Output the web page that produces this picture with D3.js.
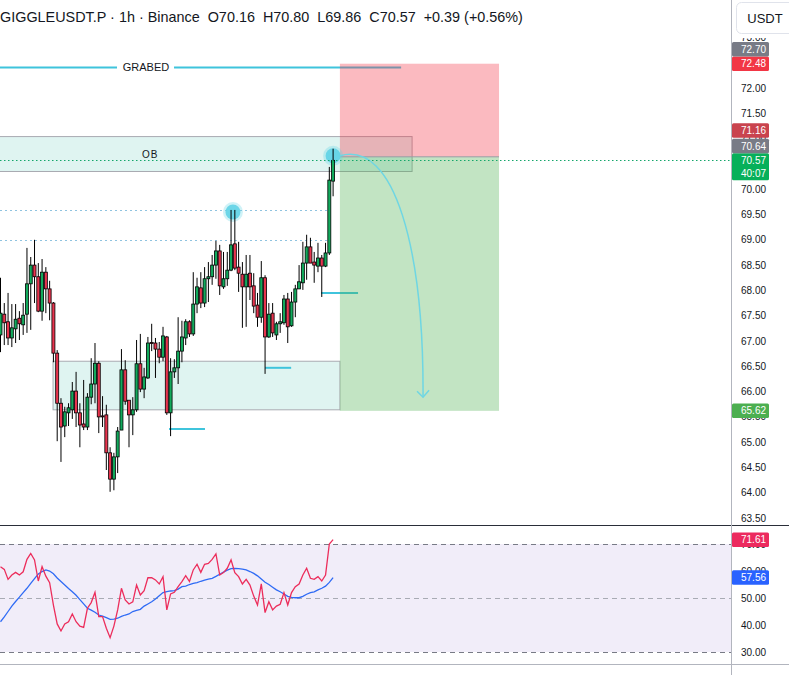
<!DOCTYPE html>
<html>
<head>
<meta charset="utf-8">
<script src="https://cdn.jsdelivr.net/npm/d3@7"></script>
<style>
    body { margin: 0; background: #fff; }
    svg { display: block; font-family: "Liberation Sans", Arial, sans-serif; }
</style>
</head>
<body>
<div id="chart"></div>
<script>
// candles, 1h
const open = [67.12, 67.53, 67.38, 67.06, 67.24, 67.45, 67.32, 67.53, 68.13, 68.50,
    68.27, 67.59, 68.36, 68.03, 67.75, 66.76, 65.77, 65.32, 65.58, 65.64,
    66.01, 65.58, 65.36, 65.30, 65.89, 66.15, 66.56, 65.52, 65.54, 64.79,
    64.27, 64.71, 65.24, 66.43, 65.83, 65.54, 65.64, 66.55, 66.05, 66.27,
    66.97, 66.96, 66.84, 66.68, 67.08, 65.58, 66.39, 66.47, 66.80, 67.06,
    67.38, 67.14, 67.73, 68.05, 67.75, 68.23, 68.27, 68.50, 68.78, 68.07,
    68.23, 68.40, 68.92, 68.46, 68.32, 68.07, 68.34, 68.09, 67.71, 67.47,
    68.25, 67.08, 67.55, 67.12, 67.34, 67.36, 67.83, 67.30, 67.77, 68.03,
    68.15, 68.54, 68.86, 68.56, 68.48, 68.64, 68.48, 68.74, 70.16]
const high = [68.25, 67.75, 67.95, 67.73, 67.73, 67.59, 67.75, 68.84, 68.66, 69.00,
    68.54, 68.62, 68.46, 68.19, 67.77, 66.82, 65.87, 65.70, 65.77, 66.19,
    66.39, 65.77, 66.23, 65.97, 66.66, 66.96, 66.60, 65.91, 65.74, 64.90,
    64.79, 65.30, 66.84, 66.62, 65.83, 65.89, 67.02, 67.14, 66.47, 67.08,
    67.34, 67.06, 66.98, 67.28, 67.10, 66.66, 66.64, 67.47, 67.40, 67.43,
    67.41, 68.36, 68.25, 68.36, 68.46, 68.56, 68.70, 68.98, 68.90, 68.76,
    68.76, 69.59, 69.59, 68.96, 68.56, 68.70, 68.70, 68.34, 67.95, 68.58,
    68.30, 67.75, 67.75, 67.38, 67.55, 67.91, 67.95, 67.97, 68.11, 68.50,
    68.96, 69.10, 69.04, 68.76, 68.94, 68.70, 68.94, 70.44, 70.80]
const low = [66.78, 66.92, 66.92, 66.88, 66.96, 67.02, 67.12, 67.16, 67.22, 67.75,
    67.57, 67.40, 67.55, 67.41, 66.58, 65.02, 64.61, 65.10, 65.32, 65.46,
    65.30, 64.90, 65.24, 65.24, 65.75, 65.77, 65.18, 65.30, 64.45, 64.02,
    64.05, 64.39, 65.24, 65.74, 64.90, 65.14, 65.60, 65.99, 65.87, 66.25,
    66.80, 66.27, 66.56, 66.60, 65.54, 65.12, 66.27, 66.15, 66.58, 66.92,
    67.08, 67.10, 67.55, 67.65, 67.67, 67.77, 68.11, 68.23, 67.91, 68.03,
    68.09, 68.38, 68.40, 67.97, 67.26, 67.28, 67.81, 67.55, 67.28, 67.36,
    66.35, 67.06, 67.08, 67.02, 67.16, 67.32, 66.96, 67.28, 67.47, 68.03,
    68.01, 68.21, 68.54, 68.15, 68.36, 67.87, 68.46, 68.70, 69.86]
const close = [67.55, 67.36, 67.06, 67.26, 67.43, 67.34, 67.51, 68.13, 68.50, 68.27,
    67.59, 68.36, 68.03, 67.75, 66.76, 65.77, 65.30, 65.60, 65.68, 66.01,
    65.58, 65.34, 65.30, 65.89, 66.15, 66.56, 65.50, 65.50, 64.79, 64.27,
    64.71, 65.22, 66.43, 65.81, 65.54, 65.64, 66.55, 66.05, 66.29, 66.96,
    66.95, 66.84, 66.68, 67.10, 65.58, 66.39, 66.47, 66.80, 67.08, 67.38,
    67.14, 67.73, 68.07, 67.75, 68.23, 68.27, 68.50, 68.78, 68.09, 68.23,
    68.40, 68.90, 68.44, 68.34, 68.07, 68.32, 68.07, 67.69, 67.47, 68.25,
    67.08, 67.53, 67.16, 67.34, 67.38, 67.83, 67.28, 67.77, 68.03, 68.17,
    68.54, 68.86, 68.54, 68.50, 68.64, 68.48, 68.74, 70.18, 70.57]

// RSI pane
const rsi = [61.6, 60.6, 56.9, 58.5, 59.5, 58.5, 59.7, 64.3, 66.5, 64.1,
    56.3, 61.6, 58.1, 55.7, 47.4, 40.4, 37.8, 40.4, 41.2, 44.1,
    41.2, 39.6, 39.1, 46.2, 48.3, 52.1, 43.1, 43.1, 38.8, 35.3,
    39.6, 45.6, 53.6, 49.3, 47.8, 48.6, 54.8, 51.1, 52.7, 57.5,
    57.5, 56.7, 55.2, 57.9, 45.6, 51.5, 52.1, 54.2, 56.1, 58.3,
    56.1, 60.4, 62.5, 59.5, 62.5, 62.8, 64.3, 66.3, 58.5, 59.4,
    61.0, 64.1, 59.4, 57.9, 55.2, 56.9, 54.8, 50.7, 47.4, 55.2,
    44.6, 48.6, 45.6, 47.0, 47.7, 52.0, 47.4, 52.0, 54.2, 55.2,
    58.5, 61.0, 57.3, 56.9, 57.9, 56.3, 58.5, 70.0, 71.61]
const rsiMa = [41.2, 43.0, 45.0, 47.0, 48.7, 50.3, 52.0, 53.6, 55.4, 57.2,
    58.9, 59.8, 60.4, 60.0, 59.0, 57.4, 56.1, 54.8, 53.5, 52.3,
    51.0, 49.4, 47.8, 46.2, 45.5, 44.7, 43.7, 43.3, 42.7, 42.1,
    42.2, 42.5, 43.2, 43.7, 44.1, 45.0, 45.4, 45.8, 47.0, 47.8,
    48.6, 49.6, 50.8, 52.0, 52.4, 52.6, 52.7, 53.3, 54.2, 54.4,
    55.0, 55.4, 55.7, 56.2, 56.6, 57.0, 57.3, 58.0, 58.8, 59.6,
    60.3, 60.9, 61.0, 60.9, 60.7, 60.4, 59.8, 59.1, 58.2, 57.0,
    55.8, 55.0, 54.0, 53.0, 52.3, 51.5, 50.6, 50.2, 50.1, 50.1,
    50.6, 51.4, 52.0, 52.3, 53.0, 53.6, 54.4, 55.8, 57.56]

const priceTicks = [63.5, 64, 64.5, 65, 65.5, 66, 66.5, 67, 67.5, 68, 68.5, 69, 69.5, 70, 70.5, 71, 71.5, 72, 72.5, 73]
const rsiTicks = [30, 40, 50, 60, 70]
const rsiLevels = [70, 50, 30]

// drawings (bar index / price)
const obZone = { from: -2, to: 108.9, top: 71.04, bottom: 70.35, label: "OB", labelAt: 39.6 }
const demandZone = { from: 13.9, to: 89.8, top: 66.60, bottom: 65.64 }
const position = { from: 89.8, to: 131.9, entry: 70.64, stop: 72.48, target: 65.62 }
const grabbed = { from: -2, to: 106, price: 72.42, label: "GRABED", labelAt: 38.5 }
const dottedLevels = [{ price: 69.59, to: 87.2 }, { price: 69.0, to: 87.2 }]
const lowMarks = [
    { price: 67.95, from: 84.8, to: 94.6 },
    { price: 66.47, from: 70, to: 76.9 },
    { price: 65.26, from: 44.6, to: 54.1 },
]
const highMarks = [{ i: 61.5, price: 69.55 }, { i: 88, price: 70.66 }]
const arrowPts = [[89.8, 70.66], [104.4, 70.97], [112, 68.8], [111.8, 65.89]]

// price scale tags
const tagValues = [72.70, 72.48, 71.16, 70.64, 70.57, 65.62]
const tagColors = ["#787b86", "#f23645", "#c9434e", "#787b86", "#07b05a", "#4caf50"]
const countdown = "40:07"
const rsiTagValues = [71.61, 57.56]
const rsiTagColors = ["#ec2a5e", "#2962ff"]

const header = "GIGGLEUSDT.P · 1h · Binance  O70.16  H70.80  L69.86  C70.57  +0.39 (+0.56%)"

const width = 789
const height = 675
const axisX = 731
const paneSplit = 525
const paneBottom = 664.5

const svg = d3.select("div#chart").append("svg").attr("width", width).attr("height", height)

const x = d3.scaleLinear().domain([0, 88]).range([0.5, 333.1])
const y = d3.scaleLinear().domain([64, 72]).range([492.8, 88])
const yRsi = d3.scaleLinear().domain([30, 70]).range([652, 544])

const defs = svg.append("defs")
defs.append("clipPath").attr("id", "mainClip").append("rect")
    .attr("x", 0).attr("y", 0).attr("width", axisX).attr("height", paneSplit)
defs.append("clipPath").attr("id", "rsiClip").append("rect")
    .attr("x", 0).attr("y", paneSplit).attr("width", axisX).attr("height", paneBottom - paneSplit)

const main = svg.append("g").attr("clip-path", "url(#mainClip)")

// zones
const zone = (g, z, fill) => g.append("rect")
    .attr("x", x(z.from)).attr("y", y(z.top))
    .attr("width", x(z.to) - x(z.from)).attr("height", y(z.bottom) - y(z.top))
    .attr("fill", fill).attr("stroke", "#a9abb2").attr("stroke-width", 1)

zone(main, obZone, "#dff4f1")
zone(main, demandZone, "#dff4f1")
main.append("text").attr("x", x(obZone.labelAt)).attr("y", (y(obZone.top) + y(obZone.bottom)) / 2)
    .attr("dy", "0.35em").attr("text-anchor", "middle").attr("font-size", 10)
    .attr("letter-spacing", 1).attr("fill", "#131722").text(obZone.label)

// dotted levels
main.selectAll(".lvl").data(dottedLevels).join("line")
    .attr("x1", 0).attr("x2", d => x(d.to))
    .attr("y1", d => Math.round(y(d.price)) + 0.5).attr("y2", d => Math.round(y(d.price)) + 0.5)
    .attr("stroke", "#8fc3e0").attr("stroke-width", 1).attr("stroke-dasharray", "2,3")

// grabbed liquidity line
const gy = Math.round(y(grabbed.price)) + 0.5
const gx = x(grabbed.labelAt)
main.append("line").attr("x1", x(grabbed.from)).attr("x2", gx - 29).attr("y1", gy).attr("y2", gy)
    .attr("stroke", "#3fc4dc").attr("stroke-width", 2)
main.append("line").attr("x1", gx + 28).attr("x2", x(grabbed.to)).attr("y1", gy).attr("y2", gy)
    .attr("stroke", "#3fc4dc").attr("stroke-width", 2)
main.append("text").attr("x", gx).attr("y", gy).attr("dy", "0.35em").attr("text-anchor", "middle")
    .attr("font-size", 11).attr("fill", "#131722").text(grabbed.label)

// swept lows
main.selectAll(".low").data(lowMarks).join("line")
    .attr("x1", d => x(d.from)).attr("x2", d => x(d.to))
    .attr("y1", d => y(d.price)).attr("y2", d => y(d.price))
    .attr("stroke", "#3fc4dc").attr("stroke-width", 2)

// short position box
main.append("rect").attr("x", x(position.from)).attr("y", y(position.stop))
    .attr("width", x(position.to) - x(position.from)).attr("height", y(position.entry) - y(position.stop))
    .attr("fill", "#f23645").attr("fill-opacity", 0.34)
main.append("rect").attr("x", x(position.from)).attr("y", y(position.entry))
    .attr("width", x(position.to) - x(position.from)).attr("height", y(position.target) - y(position.entry))
    .attr("fill", "#4caf50").attr("fill-opacity", 0.34)
main.append("line").attr("x1", x(position.from)).attr("x2", x(position.to))
    .attr("y1", y(position.entry)).attr("y2", y(position.entry))
    .attr("stroke", "#9a9ca3").attr("stroke-width", 1)

// swept highs
main.selectAll(".hi").data(highMarks).join("circle")
    .attr("cx", d => x(d.i)).attr("cy", d => y(d.price)).attr("r", 10)
    .attr("fill", "#5fd3e6").attr("fill-opacity", 0.3)
main.selectAll(".hi2").data(highMarks).join("circle")
    .attr("cx", d => x(d.i)).attr("cy", d => y(d.price)).attr("r", 7.5)
    .attr("fill", "#5fd3e6").attr("fill-opacity", 0.9)

// candles
const idx = d3.range(open.length)
const green = "#12aa5c"
const red = "#e8344e"
main.selectAll(".wick").data(idx).join("line")
    .attr("x1", i => x(i)).attr("x2", i => x(i))
    .attr("y1", i => y(high[i])).attr("y2", i => y(low[i]))
    .attr("stroke", "#000").attr("stroke-width", 1)
main.selectAll(".body").data(idx).join("rect")
    .attr("x", i => x(i) - 1.5).attr("width", 3)
    .attr("y", i => y(Math.max(open[i], close[i])))
    .attr("height", i => Math.max(1, Math.abs(y(open[i]) - y(close[i]))))
    .attr("fill", i => close[i] >= open[i] ? green : red)
    .attr("stroke", "#000").attr("stroke-width", 0.8)

// projected move arrow
const ap = arrowPts.map(p => [x(p[0]), y(p[1])])
main.append("path")
    .attr("d", `M${ap[0]}C${ap[1]} ${ap[2]} ${ap[3]}`)
    .attr("fill", "none").attr("stroke", "#6fd6e3").attr("stroke-width", 1.5)
const tip = ap[3]
main.append("path")
    .attr("d", `M${tip[0] - 6},${tip[1] - 6}L${tip[0]},${tip[1]}L${tip[0] + 6},${tip[1] - 7}`)
    .attr("fill", "none").attr("stroke", "#6fd6e3").attr("stroke-width", 1.5)

// last price line
const lastY = Math.round(y(close[close.length - 1])) + 0.5
svg.append("line").attr("x1", 0).attr("x2", axisX).attr("y1", lastY).attr("y2", lastY)
    .attr("stroke", "#13a66a").attr("stroke-width", 1).attr("stroke-dasharray", "1.5,2.5")

// RSI pane
const rsiG = svg.append("g").attr("clip-path", "url(#rsiClip)")
rsiG.append("rect").attr("x", 0).attr("width", axisX)
    .attr("y", yRsi(70)).attr("height", yRsi(30) - yRsi(70)).attr("fill", "#f1edf9")
rsiG.selectAll(".band").data(rsiLevels).join("line")
    .attr("x1", 0).attr("x2", axisX)
    .attr("y1", d => Math.round(yRsi(d)) + 0.5).attr("y2", d => Math.round(yRsi(d)) + 0.5)
    .attr("stroke", d => d === 50 ? "#a8abb4" : "#787b86").attr("stroke-width", 1)
    .attr("stroke-dasharray", "5,4")
rsiG.append("path").datum(rsiMa)
    .attr("d", d3.line().x((d, i) => x(i)).y(d => yRsi(d)))
    .attr("fill", "none").attr("stroke", "#2f6bf5").attr("stroke-width", 1.3)
rsiG.append("path").datum(rsi)
    .attr("d", d3.line().x((d, i) => x(i)).y(d => yRsi(d)))
    .attr("fill", "none").attr("stroke", "#ec2d5b").attr("stroke-width", 1.3)

// frame
svg.append("line").attr("x1", 0).attr("x2", width).attr("y1", paneSplit + 0.5).attr("y2", paneSplit + 0.5)
    .attr("stroke", "#2a2e39").attr("stroke-width", 1)
svg.append("line").attr("x1", 0).attr("x2", width).attr("y1", paneBottom).attr("y2", paneBottom)
    .attr("stroke", "#b2b5be").attr("stroke-width", 1)
svg.append("line").attr("x1", axisX + 0.5).attr("x2", axisX + 0.5).attr("y1", 0).attr("y2", height)
    .attr("stroke", "#b2b5be").attr("stroke-width", 1)

// price axis
const axisG = svg.append("g").attr("font-size", 10).attr("fill", "#131722")
axisG.selectAll(".pt").data(priceTicks).join("text")
    .attr("x", 741).attr("y", d => y(d)).attr("dy", "0.35em").text(d => d.toFixed(2))
axisG.selectAll(".rt").data(rsiTicks).join("text")
    .attr("x", 741).attr("y", d => yRsi(d)).attr("dy", "0.35em").text(d => d.toFixed(2))

// toolbar strip + currency button
svg.append("rect").attr("x", axisX + 1).attr("y", 0).attr("width", width - axisX).attr("height", 38).attr("fill", "#fff")
svg.append("rect").attr("x", 736.5).attr("y", 2.5).attr("width", 60).attr("height", 31).attr("rx", 5)
    .attr("fill", "#fff").attr("stroke", "#e0e3eb")
svg.append("text").attr("x", 765).attr("y", 18).attr("dy", "0.35em").attr("text-anchor", "middle")
    .attr("font-size", 13).attr("fill", "#131722").text("USDT")

// tags on the price scale, stacked upward when they collide
const tags = tagValues.map((v, k) => {
    const isLast = v === close[close.length - 1]
    const h = isLast ? 27 : 14.5
    const top = isLast ? y(v) - 7 : y(v) - h / 2
    return { v, color: tagColors[k], top, h, isLast }
}).sort((a, b) => b.top - a.top)
for (let k = 1; k < tags.length; k++) {
    const below = tags[k - 1]
    if (tags[k].top + tags[k].h > below.top) tags[k].top = below.top - tags[k].h
}
const rsiTags = rsiTagValues.map((v, k) => ({ v, color: rsiTagColors[k], top: yRsi(v) - 7.25, h: 14.5, isLast: false }))

const tagG = svg.append("g").attr("font-size", 10)
tags.concat(rsiTags).forEach(t => {
    tagG.append("rect").attr("x", axisX + 1).attr("y", t.top).attr("width", 37).attr("height", t.h)
        .attr("rx", 1.5).attr("fill", t.color)
    tagG.append("text").attr("x", 741).attr("y", t.top + 7.25).attr("dy", "0.35em")
        .attr("fill", "#fff").text(t.v.toFixed(2))
    if (t.isLast) {
        tagG.append("text").attr("x", 741).attr("y", t.top + 20).attr("dy", "0.35em")
            .attr("fill", "#fff").text(countdown)
    }
})

// legend
svg.append("text").attr("x", 0).attr("y", 17).attr("dy", "0.35em")
    .attr("font-size", 14.4).attr("fill", "#131722").attr("xml:space", "preserve")
    .style("white-space", "pre").text(header)
</script>
</body>
</html>
